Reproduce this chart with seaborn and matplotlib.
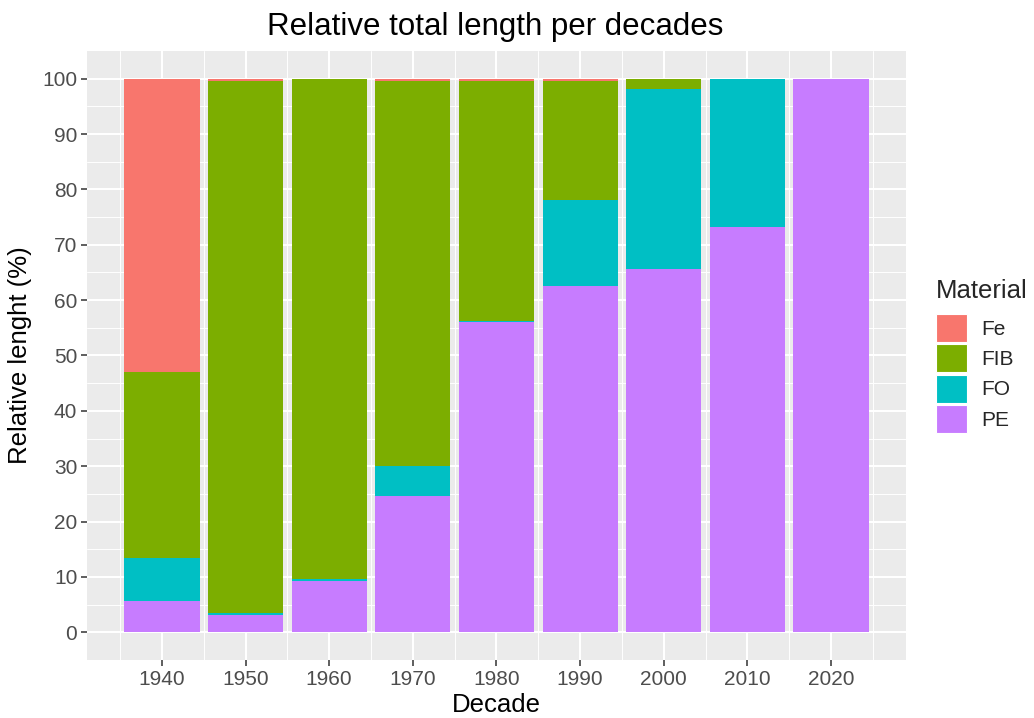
import numpy as np
import matplotlib
matplotlib.use("Agg")
import matplotlib.pyplot as plt
import seaborn as sns
from matplotlib.patches import Patch

decades = [1940, 1950, 1960, 1970, 1980, 1990, 2000, 2010, 2020]
pe  = [5.6, 3.2, 9.2, 24.7, 56.1, 62.5, 65.7, 73.2, 100.0]
fo  = [7.9, 0.2, 0.5, 5.3, 0.2, 15.5, 32.5, 26.7, 0.0]
fib = [33.6, 96.2, 90.3, 69.5, 43.3, 21.6, 1.8, 0.1, 0.0]
fe  = [52.9, 0.4, 0.0, 0.5, 0.4, 0.4, 0.0, 0.0, 0.0]

materials = ["Fe", "FIB", "FO", "PE"]
colors = {"Fe": "#F8766D", "FIB": "#7CAE00", "FO": "#00BFC4", "PE": "#C77CFF"}

sns.set_theme(style="darkgrid", rc={
    "axes.facecolor": "#EBEBEB",
    "grid.color": "white",
    "axes.edgecolor": "#EBEBEB",
})
plt.rcParams['font.family'] = ['Liberation Sans', 'DejaVu Sans']

fig = plt.figure(figsize=(10.34, 7.18), dpi=100)
ax = fig.add_axes([87 / 1034, 1 - 660 / 718, (906 - 87) / 1034, (660 - 51) / 718])

series = {"PE": pe, "FO": fo, "FIB": fib, "Fe": fe}
bottom = np.zeros(len(decades))
for m in ["PE", "FO", "FIB", "Fe"]:
    vals = np.array(series[m])
    ax.bar(decades, vals, width=9, bottom=bottom, color=colors[m], linewidth=0, zorder=3)
    bottom += vals

ax.set_xlim(1931.05, 2028.95)
ax.set_ylim(-5, 105)
ax.set_xticks(decades)
ax.set_xticks(np.arange(1935, 2030, 10), minor=True)
ax.set_yticks(np.arange(0, 101, 10))
ax.set_yticks(np.arange(5, 100, 10), minor=True)
ax.grid(which="major", color="white", linewidth=1.5, zorder=0)
ax.grid(which="minor", color="white", linewidth=0.7, zorder=0)
ax.tick_params(axis="both", which="major", labelsize=15, labelcolor="#4D4D4D",
               length=4, width=1.1, color="#333333", bottom=True, left=True, pad=3)
ax.tick_params(axis="both", which="minor", length=0)
for s in ax.spines.values():
    s.set_visible(False)

ax.set_xlabel("Decade", fontsize=18.5, color="black", labelpad=3)
ax.set_ylabel("Relative lenght (%)", fontsize=18.5, color="black", labelpad=7)
fig.text(0.479, 0.962, "Relative total length per decades", ha="center", va="center",
         fontsize=22.5, color="black")

handles = [Patch(facecolor=colors[m], edgecolor="white", linewidth=0.8, label=m)
           for m in materials]
leg = fig.legend(handles=handles, title="Material", loc="upper left",
                 bbox_to_anchor=(936 / 1034, 1 - 279 / 718), frameon=False, fontsize=15,
                 title_fontsize=18.5, handlelength=1.5, handleheight=1.7,
                 handletextpad=0.65, labelspacing=0.1, borderaxespad=0, borderpad=0)
leg._legend_box.align = "left"
leg._legend_box.sep = 8

fig.savefig("out.png", dpi=100)
